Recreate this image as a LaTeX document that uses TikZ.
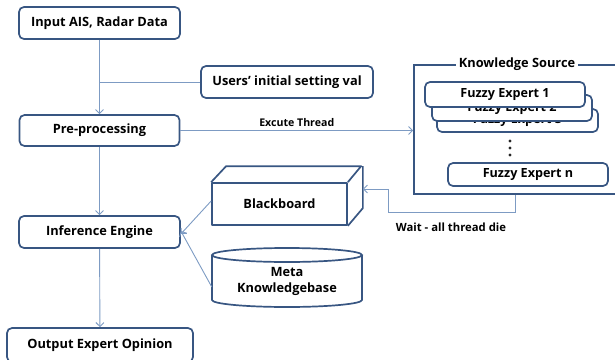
\documentclass[tikz,border=0pt]{standalone}
\usepackage{fontspec}
\setmainfont{Open Sans}
\usetikzlibrary{arrows.meta}
\definecolor{bord}{RGB}{56,86,130}
\definecolor{connc}{RGB}{125,155,195}
\begin{document}
\begin{tikzpicture}[x=1pt,y=-1pt,
  box/.style={draw=bord, line width=1.7pt, rounded corners=5pt, fill=white,
    font=\bfseries\fontsize{12.8}{15}\selectfont, inner sep=0pt},
  plainbox/.style={draw=bord, line width=1.7pt, fill=white, line join=round,
    font=\bfseries\fontsize{12.8}{15}\selectfont, inner sep=0pt},
  conn/.style={draw=connc, line width=0.9pt},
  arr/.style={conn, -{Straight Barb[length=4pt,width=8pt]}},
  lbl/.style={font=\bfseries\fontsize{10.6}{12}\selectfont, inner sep=1pt}]
\useasboundingbox (0,0) rectangle (615,359);
\clip (0,0) rectangle (615,359);

% left column
\node[box, minimum width=161pt, minimum height=32pt] (in) at (99.5,23) {Input AIS, Radar Data};
\node[box, minimum width=160pt, minimum height=31pt] (pre) at (99.5,130.5) {Pre-processing};
\node[box, minimum width=161pt, minimum height=32pt] (inf) at (99.5,232) {Inference Engine};
\node[box, minimum width=186pt, minimum height=34pt] (out) at (100,345) {Output Expert Opinion};
\node[box, minimum width=172pt, minimum height=32pt] (users) at (287,82) {Users’ initial setting val};

% knowledge source frame
\node[draw=bord, line width=1.7pt, minimum width=226pt, minimum height=129pt, inner sep=0pt] (ks) at (527,129.5) {};
\node[fill=white, font=\bfseries\fontsize{12.8}{15}\selectfont, inner sep=3pt] (kst) at ([xshift=-10pt]ks.north) {Knowledge Source};

\node[box, font=\bfseries\fontsize{12.6}{15}\selectfont, minimum width=161pt, minimum height=23pt] (fe3) at (517.5,120.5) {Fuzzy Expert 3};
\node[box, font=\bfseries\fontsize{12.6}{15}\selectfont, minimum width=160pt, minimum height=26pt] (fe2) at (512,108) {Fuzzy Expert 2};
\node[box, font=\bfseries\fontsize{12.6}{15}\selectfont, minimum width=160pt, minimum height=25pt] (fe1) at (505,94.5) {Fuzzy Expert 1};
\node[box, font=\bfseries\fontsize{12.6}{15}\selectfont, minimum width=160pt, minimum height=23pt] (fen) at (528,174.5) {Fuzzy Expert n};
\fill[black!85] (510,141) circle (1.6pt) (510,148) circle (1.6pt) (510,155) circle (1.6pt);

% blackboard cuboid
\node[plainbox, minimum width=135pt, minimum height=42pt] (bb) at (279.5,204) {Blackboard};
\draw[bord, line width=1.7pt, line join=round]
  (bb.north west) -- ++(15,-16) -- ++(135,0) -- (bb.north east)
  ([shift={(15,-16)}]bb.north east) -- ++(0,42) -- (bb.south east);
\coordinate (bbside) at ([shift={(15,-15)}]bb.east);

% meta knowledgebase cylinder
\draw[bord, line width=1.7pt, fill=white]
  (212,255) -- (212,300) arc[start angle=180, end angle=360, x radius=75pt, y radius=7pt] -- (362,255);
\draw[bord, line width=1.7pt] (287,255) ellipse [x radius=75pt, y radius=7pt];
\node[align=center, minimum width=150pt, inner sep=0pt,
  font=\bfseries\fontsize{12.8}{16}\selectfont] (meta) at (287,281) {Meta\\Knowledgebase};

% connectors
\draw[arr] (in) -- (pre);
\draw[conn] (users.west) -- (users.west -| in.south);
\draw[arr] (pre) -- (inf);
\draw[arr] (inf) -- (out);
\draw[arr] (pre.east) -- node[lbl, above=2pt] (ext) {Excute Thread} (pre.east -| ks.west);
\draw[arr] ([yshift=3pt]bb.west) -- ([yshift=-2pt]inf.east);
\draw[arr] ([yshift=-6pt]meta.west) -- ([yshift=1pt]inf.east);
\draw[arr] ([xshift=-12pt]ks.south) -- ++(0,18) -- ++(-127,0) |- (bbside);
\node[lbl, font=\bfseries\fontsize{11.3}{13}\selectfont] (wait) at (451,227) {Wait - all thread die};
\end{tikzpicture}
\end{document}
